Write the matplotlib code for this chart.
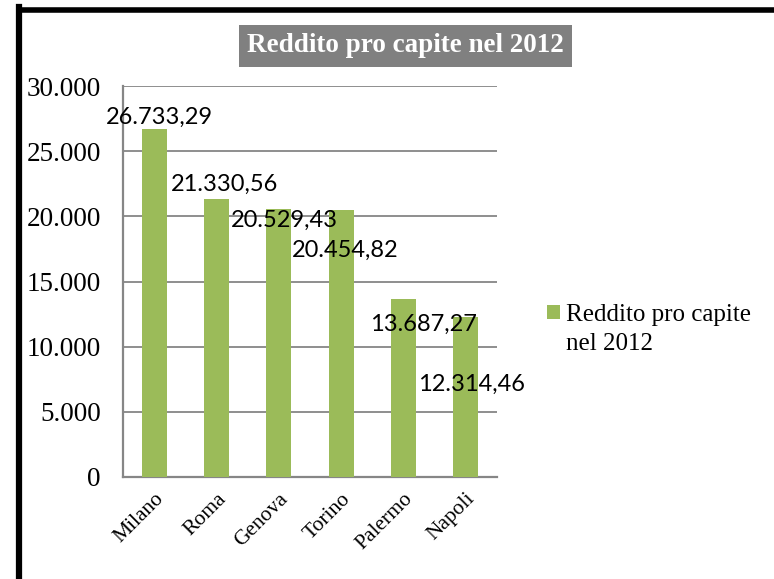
import matplotlib
matplotlib.use("Agg")
import matplotlib.pyplot as plt
from matplotlib.lines import Line2D
from matplotlib.patches import Patch
from matplotlib.ticker import FuncFormatter

# ---- data ----
cities = ["Milano", "Roma", "Genova", "Torino", "Palermo", "Napoli"]
income = [26733.29, 21330.56, 20529.43, 20454.82, 13687.27, 12314.46]
value_labels = ["26.733,29", "21.330,56", "20.529,43", "20.454,82", "13.687,27", "12.314,46"]
legend_lines = ["Reddito pro capite", "nel 2012"]
title_text = "Reddito pro capite nel 2012"
y_ticks = [0, 5000, 10000, 15000, 20000, 25000, 30000]

# label offsets (pixels) relative to bar top-centre (style only)
label_dx = [5, 8, 6, 4, 20, 6]
label_dy = [11, 15, -11, -40, -26, -68]

W, H = 774, 579
fig = plt.figure(figsize=(W / 100, H / 100), dpi=100)
fig.patch.set_facecolor("white")

ax = fig.add_axes([123 / W, 1 - 477 / H, (497 - 123) / W, (477 - 86) / H])
bar_color = "#9BBB59"
x = list(range(len(cities)))
ax.bar(x, income, width=0.4, color=bar_color, zorder=3)
ax.set_xlim(-0.5, len(cities) - 0.5)
ax.set_ylim(0, 30000)
ax.set_yticks(y_ticks)
ax.yaxis.set_major_formatter(FuncFormatter(lambda v, p: f"{int(v):,}".replace(",", ".")))
ax.grid(axis="y", color="#868686", linewidth=1.3, zorder=0)
for s in ["top", "right"]:
    ax.spines[s].set_visible(False)
for s in ["left", "bottom"]:
    ax.spines[s].set_color("#868686")
    ax.spines[s].set_linewidth(1.6)
ax.tick_params(axis="y", length=0, pad=16, labelsize=19.5)
ax.tick_params(axis="x", length=0, pad=9, labelsize=15.5)
for lab in ax.get_yticklabels():
    lab.set_fontfamily("Liberation Serif")
ax.set_xticks(x)
ax.set_xticklabels(cities, rotation=45, ha="right", rotation_mode="anchor",
                   fontfamily="Liberation Serif")

for i, (v, t) in enumerate(zip(income, value_labels)):
    ax.annotate(t, xy=(i, v), xytext=(label_dx[i], label_dy[i]),
                textcoords="offset pixels", ha="center", va="center",
                fontsize=17, fontfamily="Lato", color="black", zorder=5)

# title
fig.text(405 / W, 1 - 46 / H, title_text, ha="center", va="center",
         fontsize=19.5, fontweight="bold", fontfamily="Liberation Serif", color="white",
         bbox=dict(boxstyle="square,pad=0.3", facecolor="#808080", edgecolor="none"))

# legend
leg = fig.legend(handles=[Patch(facecolor=bar_color, edgecolor="none")],
                 labels=[legend_lines[0]],
                 loc="center left", bbox_to_anchor=(547 / W, 1 - 315 / H),
                 frameon=False, prop={"family": "Liberation Serif", "size": 18},
                 handlelength=0.5, handleheight=0.5, handletextpad=0.25, borderaxespad=0,
                 borderpad=0)
fig.canvas.draw()
tb = leg.get_texts()[0].get_window_extent()
fig.text(tb.x0 / W, 1 - 344 / H, legend_lines[1], ha="left", va="center",
         fontsize=18, fontfamily="Liberation Serif")

# outer border (left and top)
fig.add_artist(Line2D([19 / W, 19 / W], [0, 1 - 7 / H], color="black", linewidth=4.5,
                      transform=fig.transFigure, solid_capstyle="projecting"))
fig.add_artist(Line2D([19 / W, 1.01], [1 - 9.5 / H, 1 - 9.5 / H], color="black", linewidth=4.0,
                      transform=fig.transFigure, solid_capstyle="projecting"))

fig.savefig("out.png", dpi=100, facecolor="white")
